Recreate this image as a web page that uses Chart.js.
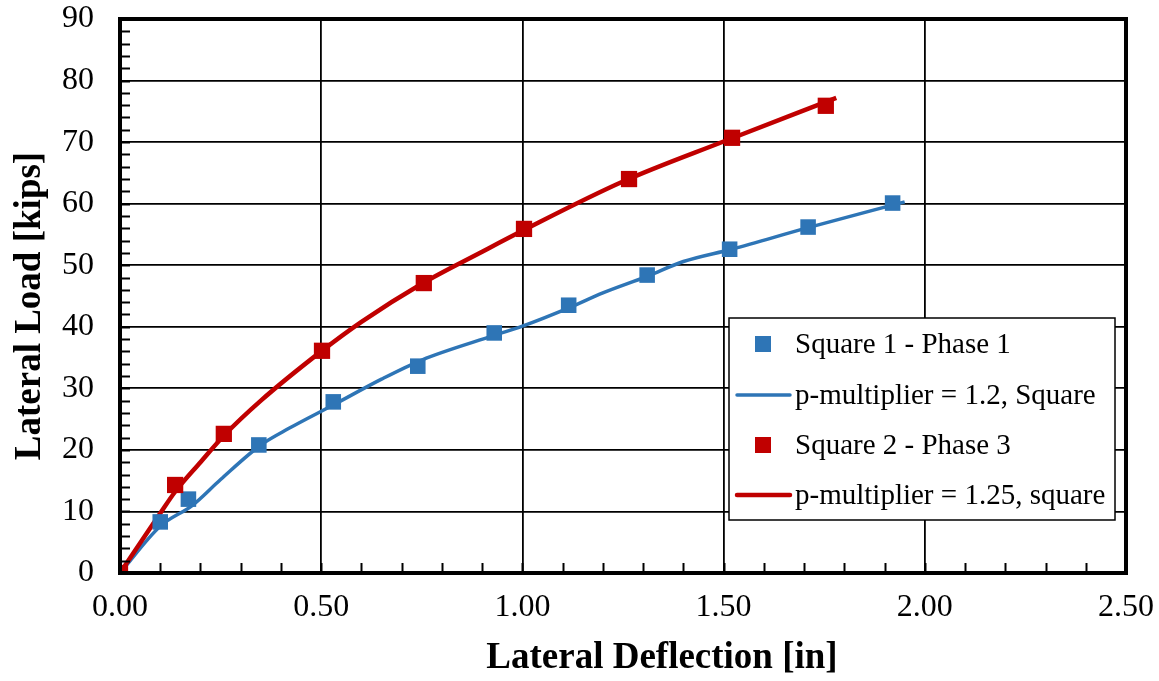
<!DOCTYPE html>
<html>
<head>
<meta charset="utf-8">
<script src="https://cdn.jsdelivr.net/npm/chart.js@4"></script>
<style>
  html, body { margin: 0; padding: 0; background: #fff; }
  #wrap { width: 1159px; height: 681px; }
</style>
</head>
<body>
<div id="wrap"><canvas id="myChart" width="1159" height="681"></canvas></div>
<script>
// Datos
const sq1X = [0, 0.10, 0.17, 0.345, 0.53, 0.74, 0.93, 1.115, 1.31, 1.515, 1.71, 1.92];
const sq1Y = [0, 8.3, 12.0, 20.8, 27.8, 33.6, 39.0, 43.5, 48.4, 52.6, 56.2, 60.1];
const fit1X = [0, 0.10, 0.18, 0.25, 0.35, 0.42, 0.53, 0.65, 0.75, 0.93, 1.00, 1.12, 1.20, 1.31, 1.40, 1.52, 1.71, 1.95];
const fit1Y = [0, 7.6, 11.0, 15.2, 20.8, 23.5, 27.3, 31.5, 34.6, 38.6, 40.1, 43.2, 45.5, 48.2, 50.6, 52.6, 56.1, 60.3];

const sq2X = [0, 0.137, 0.258, 0.502, 0.755, 1.004, 1.265, 1.521, 1.754];
const sq2Y = [0, 14.3, 22.6, 36.1, 47.1, 55.9, 64.0, 70.7, 75.9];
const fit2X = [0, 0.10, 0.137, 0.20, 0.258, 0.35, 0.50, 0.60, 0.75, 0.90, 1.00, 1.25, 1.50, 1.78];
const fit2Y = [0, 9.7, 13.2, 18.0, 22.3, 28.0, 36.0, 40.8, 47.0, 52.2, 55.6, 63.6, 70.1, 77.2];

const xTicks = [0, 0.5, 1.0, 1.5, 2.0, 2.5];
const yTicks = [0, 10, 20, 30, 40, 50, 60, 70, 80, 90];

const labels = ['Square 1 - Phase 1', 'p-multiplier = 1.2, Square', 'Square 2 - Phase 3', 'p-multiplier = 1.25, square'];
const BLUE = '#2E75B6';
const RED = '#C00000';

function toPoints(xs, ys) {
    return xs.map((x, i) => ({ x: x, y: ys[i] }));
}

// Marco, ticks menores, leyenda y titulos de ejes
const extras = {
    id: 'extras',
    afterDraw(chart) {
        const ctx = chart.ctx;
        const a = chart.chartArea;
        const xs = chart.scales.x, ys = chart.scales.y;
        ctx.save();
        // ticks menores
        ctx.strokeStyle = '#000';
        ctx.lineWidth = 2;
        for (let v = 0; v <= 90; v += 2) {
            const py = Math.round(ys.getPixelForValue(v)) + 0.5;
            ctx.beginPath(); ctx.moveTo(a.left, py); ctx.lineTo(a.left + 10, py); ctx.stroke();
        }
        for (let i = 0; i <= 25; i++) {
            const px = Math.round(xs.getPixelForValue(i / 10)) + 0.5;
            ctx.beginPath(); ctx.moveTo(px, a.bottom); ctx.lineTo(px, a.bottom - 10); ctx.stroke();
        }
        // marco
        ctx.lineWidth = 4;
        ctx.strokeRect(a.left, a.top, a.right - a.left, a.bottom - a.top);

        // leyenda
        const lx = 729, ly = 318, lw = 386, lh = 202;
        ctx.fillStyle = '#fff';
        ctx.fillRect(lx, ly, lw, lh);
        ctx.lineWidth = 1.5;
        ctx.strokeStyle = '#000';
        ctx.strokeRect(lx, ly, lw, lh);
        const rows = [344, 395, 445, 495];
        ctx.font = '29px "Liberation Serif"';
        ctx.textBaseline = 'middle';
        ctx.textAlign = 'left';
        chart.data.datasets.forEach((ds, i) => {
            const y = rows[i];
            if (ds.showLine) {
                ctx.strokeStyle = ds.borderColor;
                ctx.lineWidth = ds.borderWidth;
                ctx.lineCap = 'round';
                ctx.beginPath(); ctx.moveTo(737, y); ctx.lineTo(790, y); ctx.stroke();
            } else {
                ctx.fillStyle = ds.backgroundColor;
                ctx.fillRect(755, y - 8, 16, 16);
            }
            ctx.fillStyle = '#000';
            ctx.fillText(ds.label, 795, y + 1);
        });

        // titulos de ejes
        ctx.font = 'bold 37px "Liberation Serif"';
        ctx.fillStyle = '#000';
        ctx.textAlign = 'center';
        ctx.textBaseline = 'middle';
        ctx.fillText('Lateral Deflection [in]', 662, 658);
        ctx.translate(30, 306);
        ctx.rotate(-Math.PI / 2);
        ctx.fillText('Lateral Load [kips]', 0, 0);
        ctx.restore();
    }
};

const ctx = document.getElementById('myChart').getContext('2d');
const chart = new Chart(ctx, {
    type: 'scatter',
    data: {
        datasets: [
            {
                label: labels[0],
                data: toPoints(sq1X, sq1Y),
                backgroundColor: BLUE,
                borderColor: BLUE,
                pointStyle: 'rect',
                pointRadius: 11,
                borderWidth: 0,
                showLine: false,
                order: 1
            },
            {
                label: labels[1],
                data: toPoints(fit1X, fit1Y),
                borderColor: BLUE,
                backgroundColor: BLUE,
                borderWidth: 3.5,
                pointRadius: 0,
                showLine: true,
                cubicInterpolationMode: 'monotone',
                order: 3
            },
            {
                label: labels[2],
                data: toPoints(sq2X, sq2Y),
                backgroundColor: RED,
                borderColor: RED,
                pointStyle: 'rect',
                pointRadius: 11.5,
                borderWidth: 0,
                showLine: false,
                order: 0
            },
            {
                label: labels[3],
                data: toPoints(fit2X, fit2Y),
                borderColor: RED,
                backgroundColor: RED,
                borderWidth: 4.5,
                pointRadius: 0,
                showLine: true,
                cubicInterpolationMode: 'monotone',
                order: 2
            }
        ]
    },
    options: {
        responsive: false,
        animation: false,
        layout: { padding: { left: 0, right: 33, top: 19, bottom: 0 } },
        plugins: {
            legend: { display: false },
            tooltip: { enabled: false }
        },
        scales: {
            x: {
                type: 'linear',
                min: 0,
                max: 2.5,
                afterFit: (s) => { s.height = 108; s.paddingLeft = 0; s.paddingRight = 0; },
                afterBuildTicks: (s) => { s.ticks = xTicks.map(v => ({ value: v })); },
                grid: { color: '#000', lineWidth: 1.8, drawTicks: false },
                border: { display: false },
                ticks: {
                    padding: 15,
                    color: '#000',
                    font: { family: '"Liberation Serif"', size: 32 },
                    callback: (v) => v.toFixed(2),
                    maxRotation: 0
                }
            },
            y: {
                type: 'linear',
                min: 0,
                max: 90,
                afterFit: (s) => { s.width = 120; s.paddingTop = 0; s.paddingBottom = 0; },
                afterBuildTicks: (s) => { s.ticks = yTicks.map(v => ({ value: v })); },
                grid: { color: '#000', lineWidth: 1.8, drawTicks: false },
                border: { display: false },
                ticks: {
                    padding: 26,
                    color: '#000',
                    font: { family: '"Liberation Serif"', size: 32 }
                }
            }
        }
    },
    plugins: [extras]
});
</script>
</body>
</html>
